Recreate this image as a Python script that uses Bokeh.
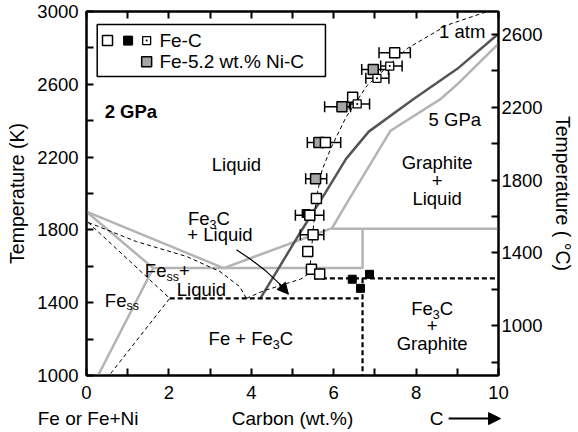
import math
from bokeh.plotting import figure
from bokeh.layouts import column
from bokeh.models import Range1d, LinearAxis, FixedTicker, Label, Arrow, NormalHead
from bokeh.embed import file_html
from bokeh.resources import INLINE

FONT = "Liberation Sans"
FS = "18.5px"

# ---------------- data (wt.% C, K) ----------------
x_major = [0, 2, 4, 6, 8, 10]
x_minor = [1, 3, 5, 7, 9]
T_major = [1000, 1400, 1800, 2200, 2600, 3000]
T_minor = [1200, 1600, 2000, 2400, 2800]
C_major = [1000, 1400, 1800, 2200, 2600]
C_minor = [800, 1200, 1600, 2000, 2400]

# light grey boundaries
liq_c = [0.0, 3.33, 5.96, 6.35, 7.38, 8.6, 9.0, 10.0]
liq_T = [1900, 1590, 1810, 1960, 2345, 2520, 2600, 2823]
sol_c = [0.0, 1.62, 0.28]
sol_T = [1900, 1590, 1000]
hor1_c = [1.62, 6.7, 6.7]
hor1_T = [1590, 1590, 1807]
hor2_c = [5.96, 10.0]
hor2_T = [1807, 1807]
# dark grey line
dark_c = [4.22, 5.2, 5.8, 6.3, 6.85, 7.94, 9.0, 10.0]
dark_T = [1424, 1790, 2005, 2190, 2340, 2519, 2685, 2878]
# thin dashed lines
dl1_c = [0.04, 1.21, 2.43, 3.24, 3.72, 3.88]
dl1_T = [1841, 1736, 1654, 1571, 1488, 1424]
dl2_c = [0.04, 2.02, 0.58]
dl2_T = [1841, 1424, 1009]
dl3_c = [3.88, 4.3, 4.85, 5.2, 5.4, 5.45, 5.5, 5.58, 5.72, 5.92, 6.3, 6.81, 7.78, 8.75, 9.73]
dl3_T = [1424, 1465, 1505, 1530, 1560, 1650, 1800, 1975, 2130, 2243, 2420, 2593, 2796, 2925, 3000]
# thick dashed lines
td1_c = [2.02, 6.7]
td1_T = [1424, 1424]
td2_c = [5.52, 10.0]
td2_T = [1534, 1534]
td3_c = [6.7, 6.7]
td3_T = [1534, 1000]
# curved arrow
arr_c = [3.64, 4.0, 4.37, 4.68, 4.9]
arr_T = [1691, 1636, 1571, 1505, 1447]

# measurements
open_c = [7.48, 6.46, 5.80, 5.58, 5.42, 5.50, 5.37, 5.46, 5.66]
open_T = [2773, 2529, 2280, 1972, 1880, 1773, 1681, 1584, 1558]
black_c = [5.33, 6.45, 6.65, 6.87]
black_T = [1890, 1529, 1479, 1556]
dot_c = [7.36, 7.05, 6.57]
dot_T = [2700, 2633, 2492]
grey_c = [6.96, 6.20, 5.64, 5.56]
grey_T = [2681, 2477, 2280, 2081]
eb_T = [2773, 2700, 2681, 2633, 2492, 2477, 2280, 2081, 1880, 1773]
eb_lo = [7.10, 7.14, 6.68, 6.78, 6.38, 5.78, 5.36, 5.32, 5.07, 5.19]
eb_hi = [7.86, 7.66, 7.33, 7.34, 6.87, 6.41, 6.17, 5.83, 5.76, 5.76]

# ---------------- main figure ----------------
p = figure(width=578, height=405, x_range=Range1d(0, 10), y_range=Range1d(1000, 3000),
           output_backend="svg", toolbar_location=None,
           x_axis_location=None, y_axis_location=None,
           min_border_left=86, min_border_right=80, min_border_top=11, min_border_bottom=30)
p.frame_align = False
p.extra_y_ranges = {"C": Range1d(1000 - 273.15, 3000 - 273.15)}
p.xgrid.visible = False
p.ygrid.visible = False
p.outline_line_color = "black"
p.outline_line_width = 2
p.background_fill_color = "white"
p.border_fill_color = "white"


def style(ax, show_labels=True, standoff=8):
    ax.axis_line_width = 2
    ax.major_tick_in = 7
    ax.major_tick_out = 0
    ax.minor_tick_in = 7
    ax.minor_tick_out = 0
    ax.major_tick_line_width = 2
    ax.minor_tick_line_width = 2
    ax.major_label_text_font = FONT
    ax.major_label_text_color = "black"
    ax.major_label_standoff = standoff
    ax.axis_label_text_font = FONT
    ax.axis_label_text_font_size = "19.5px"
    ax.axis_label_text_font_style = "normal"
    ax.axis_label_text_color = "black"
    if show_labels:
        ax.major_label_text_font_size = FS
    else:
        ax.major_label_overrides = {t: "" for t in x_major}
        ax.major_label_text_font_size = "0px"
        ax.major_label_standoff = 0


left = LinearAxis(ticker=FixedTicker(ticks=T_major, minor_ticks=T_minor),
                  axis_label="Temperature (K)")
style(left, standoff=8)
left.axis_label_standoff = 6
p.add_layout(left, "left")
bottom = LinearAxis(ticker=FixedTicker(ticks=x_major, minor_ticks=x_minor))
style(bottom, standoff=10)
p.add_layout(bottom, "below")
top = LinearAxis(ticker=FixedTicker(ticks=x_major, minor_ticks=x_minor))
style(top, show_labels=False)
p.add_layout(top, "above")
right = LinearAxis(y_range_name="C", ticker=FixedTicker(ticks=C_major, minor_ticks=C_minor),
                   axis_label="Temperature ( °C)")
style(right, standoff=3)
right.axis_label_standoff = 6
p.add_layout(right, "right")

LG = "#b4b4b4"
for cs, ts in [(liq_c, liq_T), (sol_c, sol_T), (hor1_c, hor1_T), (hor2_c, hor2_T)]:
    p.line(cs, ts, line_color=LG, line_width=2.5)
p.line(dark_c, dark_T, line_color="#555555", line_width=2.5)
for cs, ts in [(dl1_c, dl1_T), (dl2_c, dl2_T), (dl3_c, dl3_T)]:
    p.line(cs, ts, line_color="black", line_width=1, line_dash="4 3")
for cs, ts in [(td1_c, td1_T), (td2_c, td2_T), (td3_c, td3_T)]:
    p.line(cs, ts, line_color="black", line_width=2.2, line_dash="5 3")

# curved arrow
p.line(arr_c, arr_T, line_color="black", line_width=1.2)
p.add_layout(Arrow(end=NormalHead(size=11, fill_color="black", line_color="black"),
                   x_start=arr_c[-2], y_start=arr_T[-2], x_end=arr_c[-1], y_end=arr_T[-1],
                   line_width=1.2, line_color="black"))

# error bars
p.segment(x0=eb_lo, y0=eb_T, x1=eb_hi, y1=eb_T, line_color="black", line_width=1.5)
p.scatter(eb_lo, eb_T, marker="dash", angle=math.pi / 2, size=11, line_color="black", line_width=1.5)
p.scatter(eb_hi, eb_T, marker="dash", angle=math.pi / 2, size=11, line_color="black", line_width=1.5)

GREY = "#a6a6a6"
p.scatter(black_c, black_T, marker="square", size=8, fill_color="black", line_color="black")
p.scatter(grey_c, grey_T, marker="square", size=10, fill_color=GREY, line_color="black", line_width=1.5)
p.scatter(open_c, open_T, marker="square", size=10, fill_color="white", line_color="black", line_width=1.5)
p.scatter(dot_c, dot_T, marker="square_dot", size=8, fill_color="white", line_color="black", line_width=1.3)

# legend (layout constants)
lg_l, lg_r, lg_t, lg_b = 0.26, 5.8, 2928, 2643
p.quad(left=[lg_l], right=[lg_r], top=[lg_t], bottom=[lg_b], fill_color="white",
       line_color="black", line_width=1.5)
row1, row2 = 2840, 2724
p.scatter([0.51], [row1], marker="square", size=10, fill_color="white", line_color="black", line_width=1.5)
p.scatter([1.01], [row1], marker="square", size=9, fill_color="black", line_color="black")
p.scatter([1.46], [row1], marker="square_dot", size=8, fill_color="white", line_color="black", line_width=1.3)
p.scatter([1.46], [row2], marker="square", size=10, fill_color=GREY, line_color="black", line_width=1.5)


def lab(fig, x, y, text, size=FS, align="center", style="normal", xo=0, yo=0):
    fig.add_layout(Label(x=x, y=y, text=text, text_font=FONT, text_font_size=size, text_align=align,
                         text_baseline="middle", text_font_style=style, x_offset=xo, y_offset=yo,
                         text_color="black"))


W = {'F': .611, 'e': .556, ' ': .278, '+': .584, 'C': .722, '3': .556, 's': .5, 'o': .556}


def tw(s, fs):
    return sum(W.get(ch, .556) for ch in s) * fs


def rich(x, y, pre, sub, post, fs=18.5, sfs=12.5, align="center"):
    total = tw(pre, fs) + tw(sub, sfs) + tw(post, fs)
    a = -total / 2 + tw(pre, fs) if align == "center" else 0
    lab(p, x, y, pre, size=f"{fs}px", align="right", xo=a)
    lab(p, x, y, sub, size=f"{sfs}px", align="left", xo=a, yo=-6)
    if post:
        lab(p, x, y, post, size=f"{fs}px", align="left", xo=a + tw(sub, sfs))


lab(p, 3.64, 2160, "Liquid")
lab(p, 0.44, 2453, "2 GPa", align="left", style="bold")
lab(p, 9.12, 2890, "1 atm")
lab(p, 8.94, 2409, "5 GPa")
lab(p, 8.51, 2171, "Graphite")
lab(p, 8.51, 2072, "+")
lab(p, 8.51, 1972, "Liquid")
rich(2.97, 1865, "Fe", "3", "C")
lab(p, 3.24, 1773, "+ Liquid")
rich(1.94, 1575, "Fe", "ss", "  +", align="anchor")
lab(p, 2.79, 1470, "Liquid")
rich(0.97, 1414, "Fe", "ss", "", align="anchor")
rich(3.99, 1204, "Fe + Fe", "3", "C")
rich(8.39, 1368, "Fe", "3", "C")
lab(p, 8.39, 1276, "+")
lab(p, 8.39, 1177, "Graphite")
lab(p, 1.77, row1, "Fe-C", size="19px", align="left")
lab(p, 1.77, row2, "Fe-5.2 wt.% Ni-C", size="19px", align="left")

# ---------------- bottom strip: composition captions (same x scale as the main frame) ----------------
q = figure(width=578, height=27, x_range=Range1d(-86 / 41.2, 492 / 41.2), y_range=Range1d(685.1, 834.3),
           output_backend="svg", toolbar_location=None, x_axis_location=None, y_axis_location=None,
           min_border_left=0, min_border_right=0, min_border_top=0, min_border_bottom=0)
q.frame_align = False
q.xgrid.visible = False
q.ygrid.visible = False
q.outline_line_color = None
q.background_fill_color = "white"
q.border_fill_color = "white"
lab(q, 0.04, 765, "Fe or Fe+Ni", size="19px")
lab(q, 5.0, 765, "Carbon (wt.%)", size="19px")
lab(q, 8.5, 765, "C", size="19px")
q.add_layout(Arrow(end=NormalHead(size=12, fill_color="black", line_color="black"),
                   x_start=8.79, y_start=762, x_end=10.05, y_end=762, line_width=2, line_color="black"))

layout = column(p, q, spacing=0)
open("out.html", "w").write(file_html(layout, INLINE))
